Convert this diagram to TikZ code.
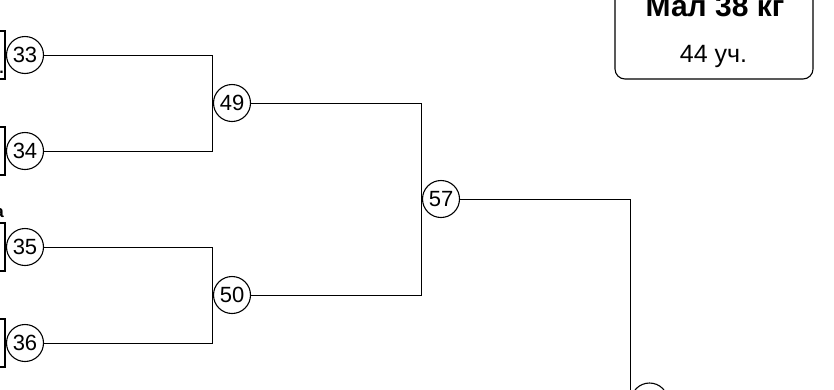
\documentclass[tikz,border=0pt]{standalone}
\usepackage{fontspec}
\setmainfont{Liberation Sans}
\begin{document}
\begin{tikzpicture}[x=1pt,y=-1pt,
  seat/.style={draw, circle, line width=1.1pt, minimum size=37pt, inner sep=0pt, font=\fontsize{22}{22}\selectfont},
  link/.style={line width=1pt},
  namebox/.style={draw, line width=1.1pt, minimum width=40pt, minimum height=48pt, inner sep=0pt},
  infobox/.style={draw, rounded corners=10pt, line width=1.1pt, minimum width=198pt, minimum height=100pt, inner sep=0pt}
  ]
\useasboundingbox (0,0) rectangle (834,389);
\clip (0,0) rectangle (834,389);
% partial name boxes on the left
\node[namebox] (b33) at (-15,55) {};
\node[namebox] (b34) at (-15,151) {};
\node[namebox] (b35) at (-15,247) {};
\node[namebox] (b36) at (-15,343) {};
\node[anchor=base east, font=\bfseries\fontsize{16}{16}\selectfont, inner sep=0pt] (dotfrag) at (4,73) {.};
\node[anchor=base east, font=\bfseries\fontsize{17}{17}\selectfont, inner sep=0pt] (afrag) at (4,217) {а};
% seats
\node[seat] (c33) at (25,55) {33};
\node[seat] (c34) at (25,151) {34};
\node[seat] (c35) at (25,247) {35};
\node[seat] (c36) at (25,343) {36};
\node[seat] (c49) at (232,103) {49};
\node[seat] (c50) at (232,295) {50};
\node[seat] (c57) at (441,199) {57};
\node[seat] (cfin) at (649.5,401.5) {};
% connectors
\draw[link] (c33.east) -| (c49.west);
\draw[link] (c34.east) -| (c49.west);
\draw[link] (c35.east) -| (c50.west);
\draw[link] (c36.east) -| (c50.west);
\draw[link] (c49.east) -| (c57.west);
\draw[link] (c50.east) -| (c57.west);
\draw[link] (c57.east) -| (cfin.west);
% info box
\node[infobox] (info) at (714,29) {};
\node[font=\bfseries\fontsize{30}{30}\selectfont, anchor=base, inner sep=0pt] (title) at (715,16) {Мал 38 кг};
\node[font=\fontsize{25}{25}\selectfont, anchor=base, inner sep=0pt] (count) at (713.5,62) {44 уч.};
\end{tikzpicture}
\end{document}
